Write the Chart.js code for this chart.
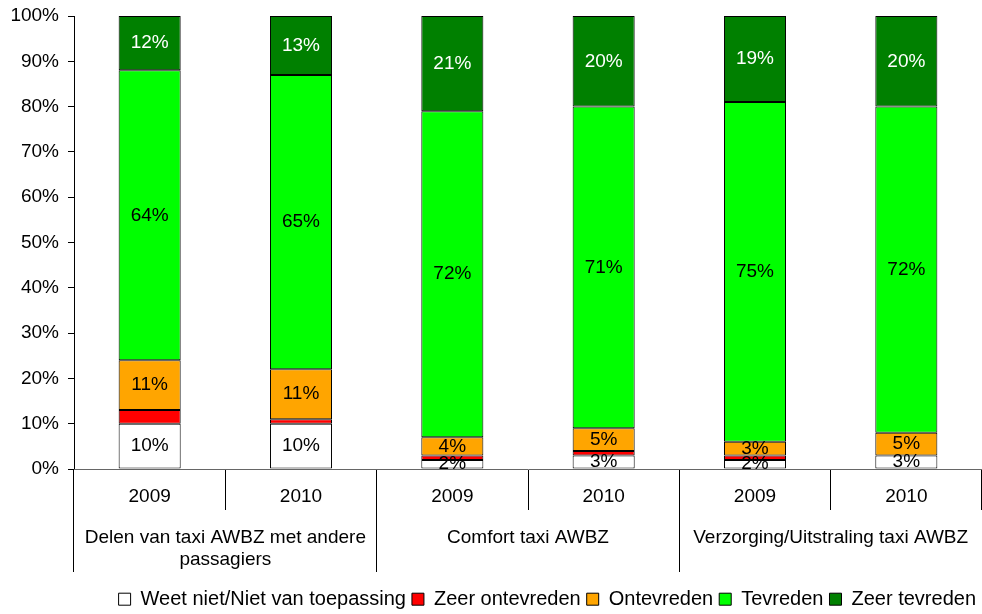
<!DOCTYPE html>
<html>
<head>
<meta charset="utf-8">
<script src="https://cdn.jsdelivr.net/npm/chart.js@4/dist/chart.umd.min.js"></script>
<style>
  html, body { margin: 0; padding: 0; background: #fff; }
  #wrap { width: 982px; height: 614px; }
</style>
</head>
<body>
<div id="wrap"><canvas id="chart" width="982" height="614"></canvas></div>
<script>
const groups = [['Delen van taxi AWBZ met andere', 'passagiers'], 'Comfort taxi AWBZ', 'Verzorging/Uitstraling taxi AWBZ'];
const years = ['2009', '2010', '2009', '2010', '2009', '2010'];

const weetNiet = [10, 10, 2, 3, 2, 3];
const zeerOntevreden = [3, 1, 1, 1, 1, 0];
const ontevreden = [11, 11, 4, 5, 3, 5];
const tevreden = [64, 65, 72, 71, 75, 72];
const zeerTevreden = [12, 13, 21, 20, 19, 20];

const yTicks = [0, 10, 20, 30, 40, 50, 60, 70, 80, 90, 100];

const FONT = { family: '"Liberation Sans", Arial, sans-serif', size: 19 };
const LEGEND_FONT = { family: '"Liberation Sans", Arial, sans-serif', size: 20 };
const EDGE = '#000000';

function serie(label, data, color, showLabel, labelColor) {
    return {
        label: label,
        data: data,
        backgroundColor: color,
        borderColor: EDGE,
        borderWidth: 1,
        borderSkipped: false,
        barPercentage: 0.41,
        categoryPercentage: 1,
        showLabel: showLabel,
        labelColor: labelColor
    };
}

// percentages in the middle of each segment
const segmentLabels = {
    id: 'segmentLabels',
    afterDatasetsDraw(chart) {
        const ctx = chart.ctx;
        ctx.save();
        ctx.font = FONT.size + 'px ' + FONT.family;
        ctx.textAlign = 'center';
        ctx.textBaseline = 'middle';
        chart.data.datasets.forEach((ds, i) => {
            if (!ds.showLabel) return;
            chart.getDatasetMeta(i).data.forEach((bar, j) => {
                if (!ds.data[j]) return;
                ctx.fillStyle = ds.labelColor;
                ctx.fillText(ds.data[j] + '%', bar.x, (bar.y + bar.base) / 2);
            });
        });
        ctx.restore();
    }
};

new Chart(document.getElementById('chart'), {
    type: 'bar',
    data: {
        labels: years,
        datasets: [
            serie('Weet niet/Niet van toepassing', weetNiet, '#ffffff', true, '#000'),
            serie('Zeer ontevreden', zeerOntevreden, '#ff0000', false, '#000'),
            serie('Ontevreden', ontevreden, '#ffa500', true, '#000'),
            serie('Tevreden', tevreden, '#00ff00', true, '#000'),
            serie('Zeer tevreden', zeerTevreden, '#008000', true, '#fff')
        ]
    },
    options: {
        responsive: false,
        animation: false,
        layout: { padding: { top: 16, right: 0, bottom: 0, left: 0 } },
        scales: {
            y: {
                stacked: true,
                min: 0,
                max: 100,
                afterBuildTicks: s => { s.ticks = yTicks.map(v => ({ value: v })); },
                afterFit: s => { s.width = 74; s.paddingTop = 0; s.paddingBottom = 0; },
                ticks: { callback: v => v + '%', color: '#000', font: FONT, padding: 9 },
                grid: { drawOnChartArea: false, tickLength: 6, color: '#000' },
                border: { color: '#000' }
            },
            x: {
                stacked: true,
                afterFit: s => { s.height = 41; },
                ticks: { color: '#000', font: FONT, padding: -25, maxRotation: 0, autoSkip: false },
                grid: { offset: true, drawOnChartArea: false, tickLength: 41, color: '#000' },
                border: { color: '#666' }
            },
            x2: {
                type: 'category',
                position: 'bottom',
                labels: groups,
                afterFit: s => { s.height = 62; },
                ticks: { color: '#000', font: FONT, padding: -46, maxRotation: 0, autoSkip: false },
                grid: { offset: true, drawOnChartArea: false, tickLength: 62, color: '#000' },
                border: { display: false }
            }
        },
        plugins: {
            tooltip: { enabled: false },
            legend: {
                position: 'bottom',
                align: 'end',
                maxHeight: 42,
                title: { display: true, text: ' ', color: '#000', font: { size: 1 }, padding: { top: 10, bottom: 0 } },
                labels: {
                    color: '#000',
                    font: LEGEND_FONT,
                    boxWidth: 12,
                    boxHeight: 12,
                    padding: 6,
                    generateLabels: chart => chart.data.datasets.map((ds, i) => ({
                        text: ds.label,
                        fillStyle: ds.backgroundColor,
                        strokeStyle: '#000',
                        fontColor: '#000',
                        lineWidth: 1,
                        hidden: false,
                        datasetIndex: i
                    }))
                }
            }
        }
    },
    plugins: [segmentLabels]
});
</script>
</body>
</html>
